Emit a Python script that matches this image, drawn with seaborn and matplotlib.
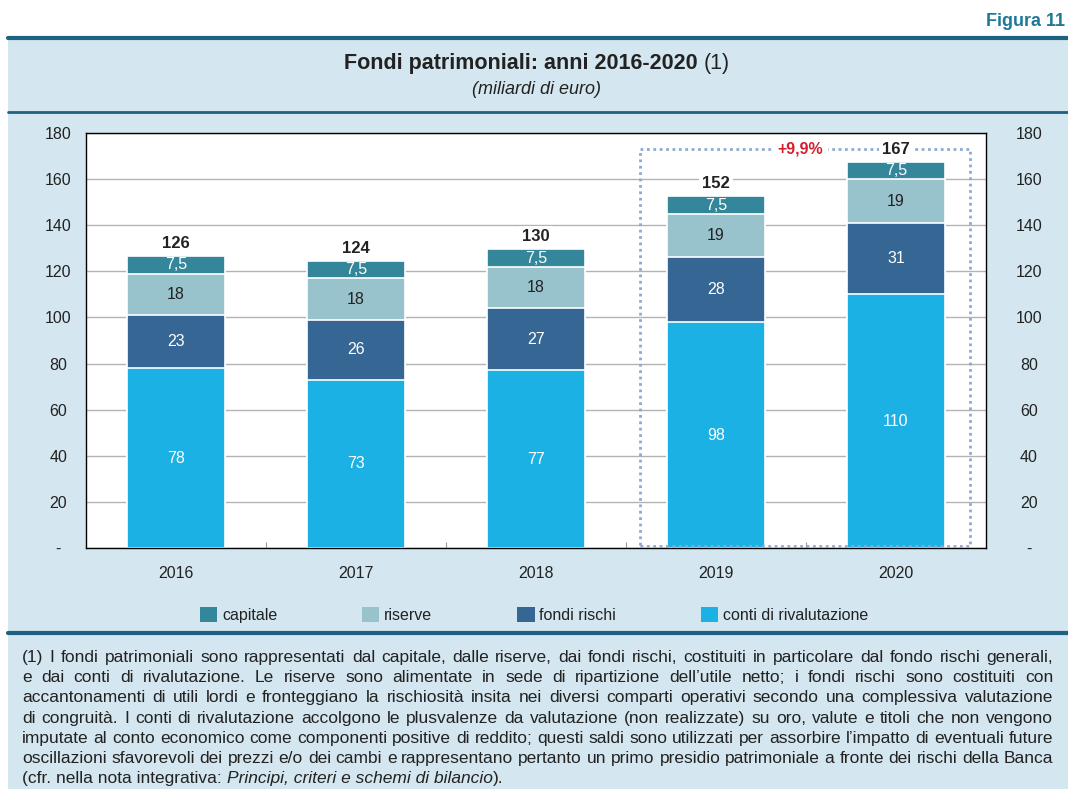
import pandas as pd
import seaborn as sns
import matplotlib
matplotlib.use('Agg')
import matplotlib.pyplot as plt
from matplotlib.patches import Rectangle, Patch
from matplotlib.lines import Line2D

W, H = 1068, 789

# dati (miliardi di euro)
anni = ['2016', '2017', '2018', '2019', '2020']
capitale = [7.5, 7.5, 7.5, 7.5, 7.5]
riserve = [18, 18, 18, 19, 19]
fondi_rischi = [23, 26, 27, 28, 31]
conti_rivalutazione = [78, 73, 77, 98, 110]
totali = [126, 124, 130, 152, 167]
etichette_capitale = ['7,5', '7,5', '7,5', '7,5', '7,5']
variazione = '+9,9%'
yticks = [0, 20, 40, 60, 80, 100, 120, 140, 160, 180]
ytick_labels = ['-', '20', '40', '60', '80', '100', '120', '140', '160', '180']

nota = [
    "(1) I fondi patrimoniali sono rappresentati dal capitale, dalle riserve, dai fondi rischi, costituiti in particolare dal fondo rischi generali,",
    "e dai conti di rivalutazione. Le riserve sono alimentate in sede di ripartizione dell\u2019utile netto; i fondi rischi sono costituiti con",
    "accantonamenti di utili lordi e fronteggiano la rischiosit\u00e0 insita nei diversi comparti operativi secondo una complessiva valutazione",
    "di congruit\u00e0. I conti di rivalutazione accolgono le plusvalenze da valutazione (non realizzate) su oro, valute e titoli che non vengono",
    "imputate al conto economico come componenti positive di reddito; questi saldi sono utilizzati per assorbire l\u2019impatto di eventuali future",
    "oscillazioni sfavorevoli dei prezzi e/o dei cambi e rappresentano pertanto un primo presidio patrimoniale a fronte dei rischi della Banca",
]
nota_ultima = [("(cfr. nella nota integrativa: ", 'normal'),
               ("Principi, criteri e schemi di bilancio", 'italic'),
               (").", 'normal')]

colori = {'capitale': '#34879a', 'riserve': '#98c2cc',
          'fondi rischi': '#366694', 'conti di rivalutazione': '#1cb1e5'}

df = pd.DataFrame({'anno': anni, 'capitale': capitale, 'riserve': riserve,
                   'fondi rischi': fondi_rischi,
                   'conti di rivalutazione': conti_rivalutazione})
df['c_conti'] = df['conti di rivalutazione']
df['c_fondi'] = df['c_conti'] + df['fondi rischi']
df['c_riserve'] = df['c_fondi'] + df['riserve']
df['c_capitale'] = df['c_riserve'] + df['capitale']

sns.set_theme(style='white')
plt.rcParams['font.family'] = ['Liberation Sans', 'DejaVu Sans']
testo = '#222222'

fig = plt.figure(figsize=(W / 100, H / 100), dpi=100)
fig.patch.set_facecolor('white')

# pannello azzurro e filetti
fig.add_artist(Rectangle((8 / W, 0), 1 - 8 / W, (H - 38) / H, transform=fig.transFigure,
                         facecolor='#d4e6ef', edgecolor='none', zorder=-10))
for yy, lw in [(38, 3), (112, 2), (633, 3)]:
    fig.add_artist(Line2D([8 / W, 1], [1 - yy / H] * 2, transform=fig.transFigure,
                          color='#1d6283', lw=lw))

ax = fig.add_axes([86 / W, 1 - 548 / H, 900 / W, 415 / H])
ax.set_facecolor('white')

strati = [('c_capitale', 'capitale'), ('c_riserve', 'riserve'),
          ('c_fondi', 'fondi rischi'), ('c_conti', 'conti di rivalutazione')]
for col, nome in strati:
    sns.barplot(data=df, x='anno', y=col, color=colori[nome], width=0.54,
                saturation=1, errorbar=None, edgecolor='white', linewidth=1.2, ax=ax)

ax.set_ylim(0, 180)
ax.set_xlim(-0.5, 4.5)
ax.set_xlabel('')
ax.set_ylabel('')
ax.set_yticks(yticks)
ax.set_yticklabels(ytick_labels)
for lab in ax.get_yticklabels():
    lab.set_horizontalalignment('center')
ax.tick_params(axis='y', length=0, pad=20, labelsize=11.5, labelcolor=testo)
ax.tick_params(axis='x', which='major', length=0, pad=13, labelsize=11.5, labelcolor=testo)
ax.set_xticks([0.5, 1.5, 2.5, 3.5], minor=True)
ax.tick_params(axis='x', which='minor', direction='in', length=4, width=0.8,
               color='#999999', bottom=True)
ax.yaxis.grid(True, color='#b3b3b3', lw=1)
ax.set_axisbelow(True)
for sp in ax.spines.values():
    sp.set_visible(True)
    sp.set_color('black')
    sp.set_linewidth(1)

ax2 = ax.twinx()
ax2.set_ylim(0, 180)
ax2.set_yticks(yticks)
ax2.set_yticklabels(ytick_labels)
for lab in ax2.get_yticklabels():
    lab.set_horizontalalignment('center')
ax2.tick_params(axis='y', length=0, pad=31, labelsize=11.5, labelcolor=testo)
ax2.grid(False)
for sp in ax2.spines.values():
    sp.set_visible(False)

# etichette dei segmenti
for i in range(len(anni)):
    c0 = conti_rivalutazione[i]
    f0 = c0 + fondi_rischi[i]
    r0 = f0 + riserve[i]
    t0 = r0 + capitale[i]
    ax.text(i, c0 / 2, str(conti_rivalutazione[i]), ha='center', va='center',
            color='white', fontsize=11.5)
    ax.text(i, (c0 + f0) / 2, str(fondi_rischi[i]), ha='center', va='center',
            color='white', fontsize=11.5)
    ax.text(i, (f0 + r0) / 2, str(riserve[i]), ha='center', va='center',
            color=testo, fontsize=11.5)
    ax.text(i, (r0 + t0) / 2, etichette_capitale[i], ha='center', va='center',
            color='white', fontsize=11.5)
    ax.text(i, t0 + 5.5, str(totali[i]), ha='center', va='center', color=testo,
            fontsize=12, fontweight='bold', zorder=7,
            bbox=dict(facecolor='white', edgecolor='none', pad=2))

# riquadro tratteggiato 2019-2020
ax.add_patch(Rectangle((2.58, 0.8), 1.83, 172.2, fill=False, edgecolor='#8eaad0',
                       lw=2, ls=(0, (1, 1.3)), zorder=5, clip_on=False))
ax.text(3.47, 173, variazione, ha='center', va='center', color='#d4202c',
        fontsize=11.5, fontweight='bold', zorder=7,
        bbox=dict(facecolor='white', edgecolor='none', pad=3))

# legenda
handles = [Patch(facecolor=colori[n], edgecolor='none') for n in
           ['capitale', 'riserve', 'fondi rischi', 'conti di rivalutazione']]
fig.legend(handles, ['capitale', 'riserve', 'fondi rischi', 'conti di rivalutazione'],
           loc='center', bbox_to_anchor=(0.5, 1 - 615 / H), ncol=4, frameon=False,
           fontsize=11.5, handlelength=1.1, handleheight=1.1, handletextpad=0.3,
           columnspacing=5.3, labelcolor=testo)

fig.canvas.draw()
rend = fig.canvas.get_renderer()


def larghezza(s, **kw):
    t = fig.text(0, 0, s, **kw)
    w = t.get_window_extent(renderer=rend).width
    t.remove()
    return w


# titolo
tit_b = "Fondi patrimoniali: anni 2016-2020 "
tit_n = "(1)"
wb = larghezza(tit_b, fontsize=15.5, fontweight='bold')
wn = larghezza(tit_n, fontsize=15.5)
x0 = 537 - (wb + wn) / 2
fig.text(x0 / W, 1 - 69 / H, tit_b, fontsize=15.5, fontweight='bold', color=testo, va='baseline')
fig.text((x0 + wb) / W, 1 - 69 / H, tit_n, fontsize=15.5, color=testo, va='baseline')
fig.text(537 / W, 1 - 90 / H, "(miliardi di euro)", fontsize=13, fontstyle='italic',
         color=testo, ha='center', va='center')
fig.text(1065 / W, 1 - 22 / H, "Figura 11", fontsize=13, fontweight='bold',
         color='#1f7896', ha='right', va='center')

# nota giustificata
xa, xb = 22, 1053
fs = 12.5
while fs > 8:
    sp = 0.8 * larghezza('a a', fontsize=fs) - 1.6 * larghezza('a', fontsize=fs)
    nat = max(sum(larghezza(p, fontsize=fs) for p in r.split(' ')) + sp * (len(r.split(' ')) - 1)
              for r in nota)
    if nat <= xb - xa:
        break
    fs -= 0.25

y = 662
for r in nota:
    parole = r.split(' ')
    ws = [larghezza(p, fontsize=fs) for p in parole]
    gap = (xb - xa - sum(ws)) / (len(parole) - 1)
    x = xa
    for p, w in zip(parole, ws):
        fig.text(x / W, 1 - y / H, p, fontsize=fs, color=testo, va='baseline')
        x += w + gap
    y += 20.2

x = xa
for s, st in nota_ultima:
    fig.text(x / W, 1 - y / H, s, fontsize=fs, fontstyle=st, color=testo, va='baseline')
    x += larghezza(s + '|', fontsize=fs, fontstyle=st) - larghezza('|', fontsize=fs)

fig.savefig('out.png', dpi=100)
